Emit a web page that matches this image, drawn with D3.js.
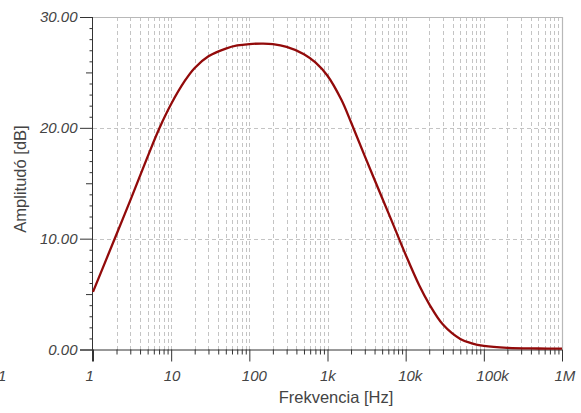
<!DOCTYPE html>
<html>
<head>
<meta charset="utf-8">
<script src="https://cdn.jsdelivr.net/npm/d3@7"></script>
<style>
  html, body { margin: 0; padding: 0; background: #fff; }
  svg { display: block; }
  .lbl { font-family: "Liberation Sans", Arial, sans-serif; font-style: italic; font-size: 15px; fill: #444; }
  .title { font-family: "Liberation Sans", Arial, sans-serif; font-size: 16.5px; fill: #444; }
</style>
</head>
<body>
<svg id="chart" width="581" height="413"></svg>
<script>
// Frequency response samples: frequency [Hz] and amplitude [dB]
const freqHz = [1, 2, 3, 5, 7, 10, 15, 20, 30, 50, 70, 100, 150, 200, 300, 500, 700, 1000, 1500, 2000, 3000, 5000, 7000, 10000, 15000, 20000, 30000, 50000, 70000, 100000, 200000, 500000, 1000000];
const ampDb  = [5.2, 10.4, 13.45, 17.4, 19.9, 22.15, 24.25, 25.4, 26.45, 27.15, 27.43, 27.56, 27.6, 27.55, 27.3, 26.65, 25.9, 24.7, 22.55, 20.5, 17.45, 13.67, 11.2, 8.55, 5.75, 4.1, 2.25, 0.95, 0.56, 0.33, 0.15, 0.09, 0.07];

// Axis ticks and labels
const xDecades = [1, 10, 100, 1000, 10000, 100000, 1000000];
const xLabels  = ["1", "10", "100", "1k", "10k", "100k", "1M"];
const yMajor   = [0, 10, 20, 30];
const yLabels  = ["0.00", "10.00", "20.00", "30.00"];
const yMid     = [5, 15, 25];

const plotL = 93, plotR = 562, plotT = 17, plotB = 349.5;
const x = d3.scaleLog().domain([1, 1e6]).range([plotL, plotR]);
const y = d3.scaleLinear().domain([0, 30]).range([plotB, plotT]);

const svg = d3.select("#chart");

// minor frequencies 2..10 per decade
const xMinor = [];
for (let d = 1; d < 1e6; d *= 10) {
  for (let m = 2; m <= 10; m++) xMinor.push(d * m);
}
const gridX = xMinor.filter(v => v < 1e6);
const yMinor = d3.range(0, 31).filter(v => v % 5 !== 0);

// grid
const grid = svg.append("g").attr("stroke", "#c4c4c4").attr("stroke-width", 1)
  .attr("stroke-dasharray", "4,3").attr("shape-rendering", "crispEdges");
grid.selectAll("line.v").data(gridX).join("line").attr("class", "v")
  .attr("x1", d => Math.round(x(d)) + 0.5).attr("x2", d => Math.round(x(d)) + 0.5)
  .attr("y1", plotT).attr("y2", plotB);
grid.selectAll("line.h").data([10, 20]).join("line").attr("class", "h")
  .attr("x1", plotL).attr("x2", plotR)
  .attr("y1", d => Math.round(y(d)) + 0.5).attr("y2", d => Math.round(y(d)) + 0.5);

// frame (top and right)
svg.append("path")
  .attr("d", `M${plotL},${plotT + 0.5}H${plotR + 0.5}V${plotB}`)
  .attr("fill", "none").attr("stroke", "#b8b8b8").attr("stroke-width", 1.2);

// x axis: decade ticks with labels
const xAxis = svg.append("g").attr("transform", `translate(0,${plotB})`)
  .call(d3.axisBottom(x).tickValues(xDecades).tickSize(12).tickSizeOuter(0)
    .tickFormat((d, i) => xLabels[i]));
xAxis.attr("font-size", null).attr("font-family", null);
xAxis.select(".domain").attr("stroke", "#333").attr("d", `M${plotL - 13},0.5H${plotR}`);
xAxis.selectAll(".tick line").attr("stroke", "#333");
xAxis.selectAll(".tick text").attr("class", "lbl").attr("text-anchor", "start")
  .attr("x", -8).attr("y", 31.5).attr("dy", null).attr("fill", null);
// x minor ticks
svg.append("g").attr("transform", `translate(0,${plotB})`)
  .call(d3.axisBottom(x).tickValues(xMinor.filter(v => !xDecades.includes(v))).tickSize(5).tickFormat(""))
  .call(g => g.select(".domain").remove())
  .call(g => g.selectAll(".tick line").attr("stroke", "#333"));

// y axis
const yAxis = svg.append("g").attr("transform", `translate(${plotL},0)`)
  .call(d3.axisLeft(y).tickValues(yMajor).tickSize(13).tickSizeOuter(0)
    .tickFormat((d, i) => yLabels[i]).tickPadding(2.5));
yAxis.attr("font-size", null).attr("font-family", null);
yAxis.select(".domain").attr("stroke", "#333").attr("d", `M-0.5,${plotT}V${plotB + 12}`);
yAxis.selectAll(".tick line").attr("stroke", "#333");
yAxis.selectAll(".tick text").attr("class", "lbl").attr("fill", null);
svg.append("g").attr("transform", `translate(${plotL},0)`)
  .call(d3.axisLeft(y).tickValues(yMid).tickSize(7).tickFormat(""))
  .call(g => g.select(".domain").remove())
  .call(g => g.selectAll(".tick line").attr("stroke", "#333"));
svg.append("g").attr("transform", `translate(${plotL},0)`)
  .call(d3.axisLeft(y).tickValues(yMinor).tickSize(3.5).tickFormat(""))
  .call(g => g.select(".domain").remove())
  .call(g => g.selectAll(".tick line").attr("stroke", "#333"));

// stray label at the far left edge
svg.append("text").attr("class", "lbl").attr("x", -2).attr("y", 381).text("1");

// response curve
const pts = freqHz.map((f, i) => [f, ampDb[i]]);
svg.append("path").datum(pts)
  .attr("fill", "none").attr("stroke", "#920a0a").attr("stroke-width", 2.3)
  .attr("stroke-linejoin", "round")
  .attr("d", d3.line().x(d => x(d[0])).y(d => y(d[1])).curve(d3.curveCatmullRom.alpha(0.5)));

// axis titles
svg.append("text").attr("class", "title").attr("text-anchor", "middle")
  .attr("x", 336).attr("y", 403).text("Frekvencia [Hz]");
svg.append("text").attr("class", "title").attr("text-anchor", "middle")
  .attr("transform", "translate(26,179) rotate(-90)").text("Amplitudó [dB]");
</script>
</body>
</html>
